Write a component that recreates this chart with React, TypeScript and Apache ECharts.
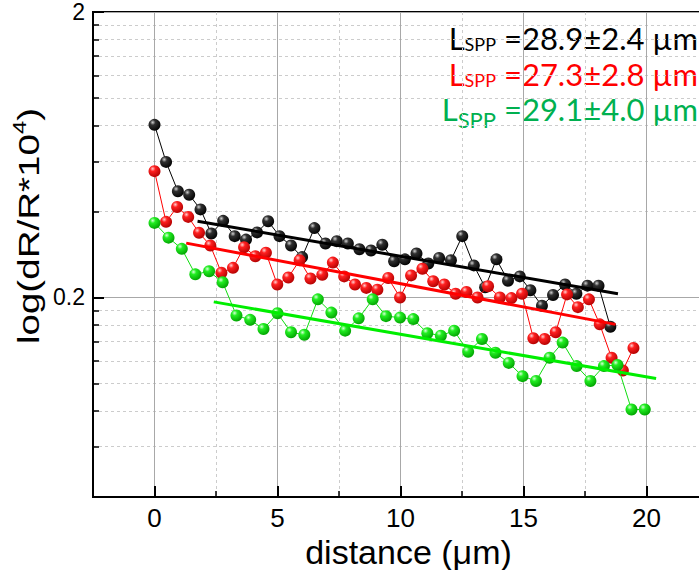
import React, { useEffect, useRef } from "react";
import * as echarts from "echarts";

// ---- data ----
const blackX = [0, 0.47, 0.95, 1.41, 1.87, 2.31, 2.79, 3.26, 3.72, 4.17, 4.62, 5.08, 5.55, 6.0, 6.5, 6.95, 7.41, 7.86, 8.33, 8.8, 9.26, 9.74, 10.18, 10.65, 11.13, 11.57, 12.05, 12.51, 12.98, 13.44, 13.9, 14.37, 14.85, 15.28, 15.75, 16.2, 16.69, 17.15, 17.6, 18.05, 18.53];
const blackY = [0.805, 0.597, 0.471, 0.458, 0.407, 0.335, 0.371, 0.328, 0.319, 0.338, 0.37, 0.328, 0.304, 0.277, 0.35, 0.309, 0.315, 0.309, 0.295, 0.292, 0.306, 0.268, 0.272, 0.285, 0.263, 0.275, 0.27, 0.328, 0.259, 0.217, 0.272, 0.229, 0.237, 0.212, 0.187, 0.204, 0.222, 0.206, 0.22, 0.22, 0.158];

const redX = [0, 0.47, 0.92, 1.37, 1.81, 2.27, 2.72, 3.19, 3.64, 4.1, 4.53, 4.99, 5.44, 5.9, 6.34, 6.82, 7.25, 7.71, 8.15, 8.61, 9.06, 9.5, 9.98, 10.43, 10.89, 11.33, 11.78, 12.24, 12.68, 13.13, 13.56, 14.04, 14.51, 14.94, 15.4, 15.86, 16.31, 16.77, 17.21, 17.66, 18.1, 18.58, 19.04, 19.47];
const redY = [0.554, 0.368, 0.415, 0.383, 0.337, 0.304, 0.244, 0.254, 0.3, 0.279, 0.287, 0.222, 0.235, 0.27, 0.233, 0.24, 0.265, 0.237, 0.222, 0.216, 0.213, 0.234, 0.2, 0.239, 0.252, 0.228, 0.222, 0.206, 0.209, 0.2, 0.219, 0.2, 0.199, 0.206, 0.144, 0.143, 0.151, 0.205, 0.185, 0.197, 0.161, 0.123, 0.111, 0.133];

const greenX = [0, 0.57, 1.11, 1.66, 2.22, 2.77, 3.33, 3.89, 4.43, 5.0, 5.55, 6.09, 6.64, 7.19, 7.75, 8.3, 8.87, 9.41, 9.98, 10.52, 11.09, 11.64, 12.18, 12.75, 13.31, 13.86, 14.4, 14.96, 15.51, 16.06, 16.59, 17.16, 17.72, 18.27, 18.82, 19.39, 19.93];
const greenY = [0.365, 0.324, 0.296, 0.241, 0.247, 0.226, 0.173, 0.167, 0.155, 0.176, 0.151, 0.148, 0.197, 0.177, 0.153, 0.169, 0.197, 0.172, 0.17, 0.168, 0.15, 0.147, 0.153, 0.129, 0.143, 0.128, 0.118, 0.106, 0.102, 0.123, 0.139, 0.115, 0.102, 0.115, 0.116, 0.081, 0.081];

const blackFitX = [1.75, 18.84];
const blackFitY = [0.37, 0.206];
const redFitX = [1.29, 18.74];
const redFitY = [0.31, 0.161];
const greenFitX = [2.41, 20.39];
const greenFitY = [0.193, 0.104];

const xMajorTicks = [0, 5, 10, 15, 20];
const xMinorTicks = [2.5, 7.5, 12.5, 17.5, 22.5];
const yMajorTicks = [0.2, 2];
const yMinorTicks = [0.06, 0.08, 0.1, 0.12, 0.14, 0.16, 0.18, 0.4, 0.6, 0.8, 1, 1.2, 1.4, 1.6, 1.8];

const labelBlack = "28.9±2.4";
const labelRed = "27.3±2.8";
const labelGreen = "29.1±4.0";

const NARROW = "'Liberation Sans Narrow', 'Arial Narrow', 'Liberation Sans', Arial, sans-serif";
const SANS = "'Liberation Sans', Arial, sans-serif";
const CAL = "Lato, 'Open Sans', sans-serif";

function pairs(xs: number[], ys: number[]) {
  return xs.map((x, i) => [x, ys[i]]);
}

function ball(c0: string, c1: string, c2: string) {
  return new echarts.graphic.RadialGradient(0.35, 0.3, 0.75, [
    { offset: 0, color: c0 },
    { offset: 0.3, color: c1 },
    { offset: 1, color: c2 },
  ]);
}

function dataSeries(name: string, xs: number[], ys: number[], lineColor: string, grad: any, z: number) {
  return {
    type: "line",
    name,
    data: pairs(xs, ys),
    symbol: "circle",
    symbolSize: 12,
    showSymbol: true,
    lineStyle: { color: lineColor, width: 1 },
    itemStyle: { color: grad, borderWidth: 0 },
    emphasis: { disabled: true },
    silent: true,
    z,
  };
}

function fitSeries(name: string, xs: number[], ys: number[], color: string) {
  return {
    type: "line",
    name,
    data: pairs(xs, ys),
    symbol: "none",
    lineStyle: { color, width: 3 },
    emphasis: { disabled: true },
    silent: true,
    z: 6,
  };
}

function annot(value: string, color: string, y: number, sub: boolean) {
  return {
    type: "text",
    right: 1,
    top: y,
    silent: true,
    style: {
      text: `{L|L}{s|SPP}{n| =${value} µm}`,
      rich: {
        L: { fontSize: 31, fontFamily: CAL, fill: color, verticalAlign: "bottom", padding: sub ? [0, 0, 6, 0] : [0, 0, 0, 0] },
        s: { fontSize: sub ? 22 : 18, fontFamily: CAL, fill: color, verticalAlign: "bottom" },
        n: { fontSize: 31, fontFamily: CAL, fill: color, verticalAlign: "bottom", padding: sub ? [0, 0, 6, 0] : [0, 0, 0, 0] },
      },
    },
  };
}

export default function App() {
  const ref = useRef<HTMLDivElement>(null);
  useEffect(() => {
    if (!ref.current) return;
    const chart = echarts.init(ref.current, null, { renderer: "svg" });
    const option: any = {
      animation: false,
      backgroundColor: "#ffffff",
      grid: {
        left: 93,
        top: 12,
        right: -9,
        bottom: 73,
        show: true,
        borderColor: "#000",
        borderWidth: 2,
        backgroundColor: "transparent",
        containLabel: false,
        outerBoundsMode: "none",
      },
      xAxis: [
        {
          type: "value",
          min: -2.5,
          max: 22.5,
          position: "bottom",
          axisLine: { show: true, onZero: false, lineStyle: { color: "#000", width: 2 } },
          axisTick: { show: true, inside: true, length: 11, customValues: xMajorTicks, lineStyle: { color: "#000", width: 2 } },
          axisLabel: { customValues: xMajorTicks, fontSize: 26, fontFamily: NARROW, color: "#000", margin: 8 },
          splitLine: { show: true, lineStyle: { color: "#a8a8a8", width: 1 } },
          name: "distance (μm)",
          nameLocation: "middle",
          nameGap: 38,
          nameMoveOverlap: false,
          nameTextStyle: { fontSize: 34, fontFamily: SANS, color: "#000", padding: [0, 0, 0, 16] },
        },
        {
          type: "value",
          min: -2.5,
          max: 22.5,
          position: "bottom",
          axisLine: { show: false, onZero: false },
          axisTick: { show: true, inside: true, length: 6, customValues: xMinorTicks, lineStyle: { color: "#000", width: 1.5 } },
          axisLabel: { show: false },
          splitLine: { show: true, lineStyle: { color: "#cccccc", width: 1, type: [3, 3] } },
        },
      ],
      yAxis: [
        {
          type: "log",
          logBase: 10,
          min: 0.04,
          max: 2,
          position: "left",
          axisLine: { show: true, onZero: false, lineStyle: { color: "#000", width: 2 } },
          axisTick: { show: true, inside: true, length: 11, customValues: yMajorTicks, lineStyle: { color: "#000", width: 2 } },
          axisLabel: {
            customValues: yMajorTicks,
            fontSize: 23,
            fontFamily: SANS,
            color: "#000",
            margin: 8,
            formatter: (v: number) => String(+Number(v).toPrecision(3)),
          },
          splitLine: { show: true, lineStyle: { color: "#a8a8a8", width: 1 } },
        },
        {
          type: "log",
          logBase: 10,
          min: 0.04,
          max: 2,
          position: "left",
          axisLine: { show: false, onZero: false },
          axisTick: { show: true, inside: true, length: 6, customValues: yMinorTicks, lineStyle: { color: "#000", width: 1.5 } },
          axisLabel: { show: false },
          splitLine: { show: true, lineStyle: { color: "#cccccc", width: 1, type: [3, 3] } },
        },
      ],
      series: [
        dataSeries("black", blackX, blackY, "#000000", ball("#d0d0d0", "#303030", "#000000"), 3),
        dataSeries("red", redX, redY, "#ff0000", ball("#ffd0d0", "#ff2020", "#b00000"), 4),
        dataSeries("green", greenX, greenY, "#11dd11", ball("#d8ffd8", "#22ee22", "#00a000"), 5),
        fitSeries("black fit", blackFitX, blackFitY, "#000000"),
        fitSeries("red fit", redFitX, redFitY, "#ff0000"),
        fitSeries("green fit", greenFitX, greenFitY, "#00ee00"),
      ],
      graphic: [
        {
          type: "text",
          x: 27,
          y: 226,
          rotation: Math.PI / 2,
          scaleX: 1.33,
          silent: true,
          style: {
            text: "{a|log(dR/R*10}{s|4}{a|)}",
            align: "center",
            verticalAlign: "middle",
            rich: {
              a: { fontSize: 29, fontFamily: SANS, fill: "#000", verticalAlign: "bottom", padding: [4, 0, 0, 0] },
              s: { fontSize: 18, fontFamily: SANS, fill: "#000", verticalAlign: "top" },
            },
          },
        },
        annot(labelBlack, "#000000", 22, false),
        annot(labelRed, "#ff0000", 58, false),
        annot(labelGreen, "#00b050", 93, true),
      ],
    };
    chart.setOption(option);
    return () => chart.dispose();
  }, []);
  return (
    <div
      ref={ref}
      style={{ position: "fixed", left: 0, top: 0, width: 699, height: 570, background: "#fff" }}
    />
  );
}
